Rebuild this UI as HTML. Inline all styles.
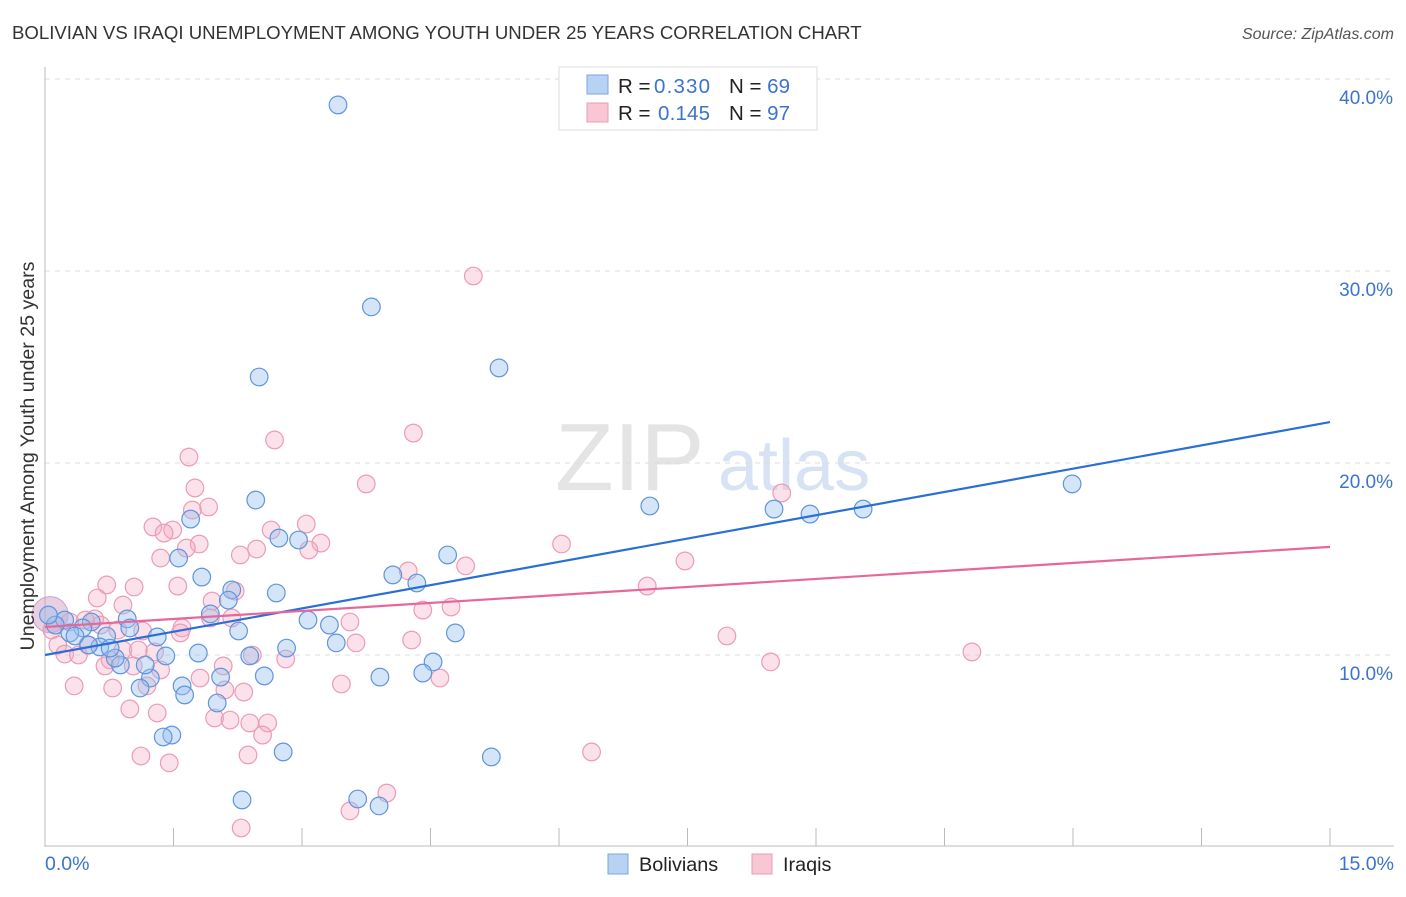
<!DOCTYPE html>
<html><head><meta charset="utf-8">
<style>
body{margin:0;background:#fff;font-family:"Liberation Sans",sans-serif;}
svg text{font-family:"Liberation Sans",sans-serif;}
</style></head>
<body>
<svg id="chart" width="1406" height="892" xmlns="http://www.w3.org/2000/svg">
<text x="12" y="39" font-size="18.6" fill="#333">BOLIVIAN VS IRAQI UNEMPLOYMENT AMONG YOUTH UNDER 25 YEARS CORRELATION CHART</text>
<text x="1394" y="39" font-size="16" fill="#555" font-style="italic" text-anchor="end">Source: ZipAtlas.com</text>
<text x="555" y="490" font-size="96" fill="#e4e4e4" font-family="Liberation Serif">ZIP</text>
<text x="718" y="490" font-size="72" fill="#d7e3f4">atlas</text>
<g id="grid"></g>
<g id="axes"></g>
<g id="marks"></g>
<text transform="translate(34,456) rotate(-90)" font-size="19.6" fill="#333" text-anchor="middle">Unemployment Among Youth under 25 years</text>
<text x="45" y="870" font-size="19.5" fill="#3a73d0">0.0%</text>
<text x="1394" y="870" font-size="19.5" fill="#3a73d0" text-anchor="end">15.0%</text>
<g>
<rect x="559" y="67" width="258" height="63" fill="#fff" stroke="#ddd"/>
<rect x="587" y="75" width="21" height="19" fill="#b8d2f3" stroke="#7aa6e0"/>
<rect x="587" y="103" width="21" height="19" fill="#f9c6d6" stroke="#ec9bb6"/>
<text x="618" y="93" font-size="20.5" fill="#222">R = <tspan x="654" fill="#3a73d0" textLength="56">0.330</tspan><tspan x="729">N = </tspan><tspan fill="#3a73d0">69</tspan></text>
<text x="618" y="120" font-size="20.5" fill="#222">R = <tspan x="658" fill="#3a73d0" textLength="52">0.145</tspan><tspan x="729">N = </tspan><tspan fill="#3a73d0">97</tspan></text>
</g>
<g>
<rect x="608" y="854" width="20" height="20" fill="#b8d2f3" stroke="#7aa6e0"/>
<text x="639" y="871" font-size="19.8" fill="#222">Bolivians</text>
<rect x="752" y="854" width="20" height="20" fill="#f9c6d6" stroke="#ec9bb6"/>
<text x="783" y="871" font-size="19.8" fill="#222">Iraqis</text>
</g>
</svg>
<script>
const yTicks=[10,20,30,40];
const yTickLabels=["10.0%","20.0%","30.0%","40.0%"];
const xTicks=[0,1.5,3,4.5,6,7.5,9,10.5,12,13.5,15];
const bolX=[3.42,3.81,2.50,5.30,11.99,7.06,8.51,8.93,9.55,2.46,1.70,1.56,2.73,2.96,4.70,4.06,4.34,1.83,2.70,2.18,2.14,1.93,2.26,3.07,3.32,3.40,4.79,4.53,4.41,3.91,2.82,2.56,2.39,2.05,1.79,1.60,1.63,1.41,1.23,1.17,1.11,1.31,0.96,0.99,0.72,0.54,0.44,0.23,0.29,0.12,0.35,0.64,0.88,0.82,1.48,1.38,2.78,5.21,2.30,3.65,3.90,2.01,0.04,0.51,0.76];
const bolY=[38.65,28.13,24.48,24.95,18.91,17.76,17.60,17.34,17.60,18.07,17.08,15.05,16.09,15.99,15.21,14.17,13.75,14.06,13.23,13.39,12.86,12.14,11.25,11.82,11.56,10.63,11.15,9.64,9.06,8.85,10.36,8.91,9.95,8.85,10.10,8.39,7.92,9.95,8.80,9.48,8.28,10.94,11.88,11.41,10.99,11.72,11.41,11.82,11.15,11.56,10.99,10.42,9.48,9.84,5.83,5.73,4.95,4.69,2.45,2.50,2.14,7.50,12.08,10.52,10.36];
const iraX=[5.00,2.68,4.30,1.68,3.75,8.60,1.75,1.91,1.72,1.26,1.49,1.39,2.64,3.05,3.22,3.08,1.80,1.65,1.35,2.28,2.47,6.03,7.47,4.24,4.91,7.03,0.72,1.04,1.55,2.22,0.91,0.61,1.95,2.18,3.56,4.41,4.74,0.58,0.65,0.47,0.29,0.85,1.14,1.60,1.93,1.58,0.08,0.15,0.23,0.39,0.50,0.76,0.91,1.09,1.28,0.70,1.03,1.35,2.08,2.42,2.81,3.63,4.28,7.96,10.82,8.47,0.34,0.79,1.19,1.81,2.10,4.61,3.46,0.99,1.31,1.98,2.32,2.16,2.39,2.60,2.54,1.12,1.45,2.37,6.38,3.99,3.56,2.29];
const iraY=[29.74,21.20,21.56,20.31,18.91,18.44,18.70,17.71,17.55,16.67,16.51,16.35,16.51,16.82,15.83,15.47,15.78,15.57,15.05,15.21,15.52,15.78,14.90,14.38,14.64,13.59,13.65,13.54,13.59,13.33,12.60,12.97,12.81,11.93,11.72,12.34,12.50,11.88,11.56,11.82,11.72,11.30,11.25,11.41,11.93,11.15,11.30,10.52,10.05,10.00,10.52,9.74,10.26,10.26,10.16,9.43,9.43,9.22,9.43,10.00,9.79,10.63,10.78,10.99,10.16,9.64,8.39,8.28,8.39,8.80,8.18,8.80,8.49,7.19,6.98,6.72,8.07,6.61,6.46,6.46,5.83,4.74,4.38,4.79,4.95,2.81,1.88,0.99];
const bolLine=[10.0,22.13];
const iraLine=[11.46,15.63];
const X=v=>45+v*(1330-45)/15;
const Y=v=>655-(v-10)*19.2;
const NS="http://www.w3.org/2000/svg";
function mk(tag,attrs,parent){const e=document.createElementNS(NS,tag);for(const k in attrs)e.setAttribute(k,attrs[k]);document.getElementById(parent).appendChild(e);return e;}
yTicks.forEach((t,i)=>{
  const g=mk('line',{x1:45,x2:1394,y1:Y(t),y2:Y(t),stroke:'#ddd','stroke-dasharray':'5,5'},'grid');
  
  
  const tx=mk('text',{x:1393,y:Y(t)+25,'font-size':19,fill:'#3a73d0','text-anchor':'end'},'grid');
  tx.textContent=yTickLabels[i];
  
  
});
const ax=mk('line',{x1:45,x2:45,y1:67,y2:847,stroke:'#bbb'},'axes');


const bx=mk('line',{x1:45,x2:1394,y1:846,y2:846,stroke:'#bbb'},'axes');


xTicks.forEach(t=>{
  const l=mk('line',{x1:X(t),x2:X(t),y1:828,y2:846,stroke:'#bbb'},'axes');
  
  
});
const big=mk('circle',{cx:X(0.06),cy:Y(12.1),r:18,fill:'rgba(200,150,190,0.45)',stroke:'#c9a0c8'},'marks');


iraX.forEach((x,i)=>{
  const c=mk('circle',{cx:X(x),cy:Y(iraY[i]),r:8.8,fill:'rgba(244,170,196,0.35)',stroke:'#ec9bb6','stroke-width':1.2},'marks');
  
  
});
bolX.forEach((x,i)=>{
  const c=mk('circle',{cx:X(x),cy:Y(bolY[i]),r:8.8,fill:'rgba(150,190,238,0.4)',stroke:'#5f95dd','stroke-width':1.2},'marks');
  
  
});
const l1=mk('line',{x1:X(0),x2:X(15),y1:Y(bolLine[0]),y2:Y(bolLine[1]),stroke:'#2a6fd6','stroke-width':2.2},'marks');


const l2=mk('line',{x1:X(0),x2:X(15),y1:Y(iraLine[0]),y2:Y(iraLine[1]),stroke:'#e8679a','stroke-width':2.2},'marks');


</script>
</body></html>
